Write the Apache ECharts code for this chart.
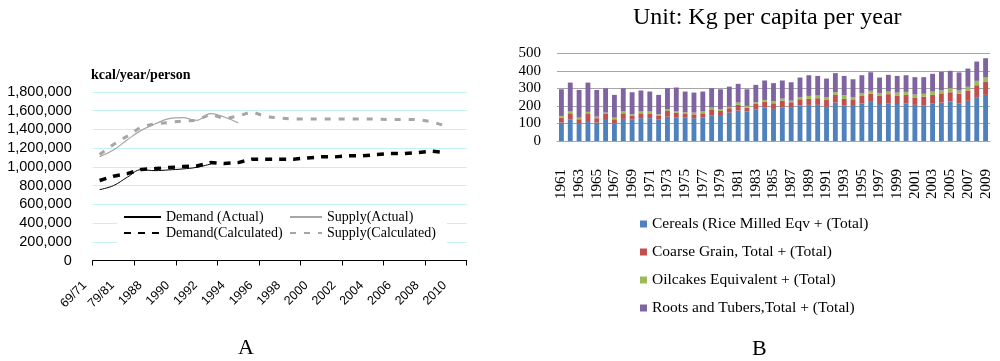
<!DOCTYPE html>
<html>
<head>
<meta charset="utf-8">
<script src="https://cdn.jsdelivr.net/npm/echarts@6/dist/echarts.min.js"></script>
<style>
html,body{margin:0;padding:0;background:#fff;}
#c{width:1000px;height:361px;}
</style>
</head>
<body>
<div id="c"></div>
<script>
// ---------- Panel A data ----------
const catsA = ['69/71','74/76','79/81','1987','1988','1989','1990','1991','1992','1993','1994','1995','1996','1997','1998','1999','2000','2001','2002','2003','2004','2005','2006','2007','2008','2009','2010'];
const demandActual = [757000,800000,890000,970000,960000,968000,978000,995000,1030000];
const supplyActual = [1110000,1180000,1290000,1390000,1458000,1515000,1527000,1497000,1568000,1533000,1470000];
const demandCalc = [855000,900000,928000,973000,982000,993000,1003000,1010000,1046000,1036000,1046000,1082000,1082000,1082000,1082000,1096000,1107000,1107000,1118000,1118000,1132000,1143000,1143000,1154000,1168000,1154000];
const supplyCalc = [1132000,1240000,1329000,1428000,1460000,1475000,1489000,1496000,1564000,1514000,1543000,1589000,1536000,1521000,1511000,1511000,1511000,1511000,1511000,1511000,1511000,1505000,1505000,1505000,1482000,1436000];
const yTicksA = {min:0, max:1800000, interval:200000};

// ---------- Panel B data ----------
const yearsB = [];
for (let y = 1961; y <= 2009; y++) yearsB.push(String(y));
const cereals = [105,124,101,114,105,120,101,126,124,130,130,124,139,133,133,130,133,147,143,162,173,168,181,192,183,192,189,202,206,206,196,219,204,200,213,223,211,215,211,215,206,204,215,219,225,215,229,250,263];
const coarse  = [28,34,23,44,25,34,23,32,19,28,24,19,32,29,21,22,25,34,28,25,33,22,30,31,32,38,32,36,34,38,38,44,36,34,44,46,46,52,46,48,42,49,48,53,53,54,59,68,76];
const oilcakes= [10,10,9,8,9,8,9,10,9,10,14,9,10,9,10,10,10,9,10,9,13,10,10,11,12,12,9,12,17,15,16,15,21,16,15,17,17,15,19,17,17,16,19,16,23,19,21,25,23];
const roots   = [152,165,158,167,152,139,130,133,126,120,114,111,120,134,118,114,114,111,114,114,107,95,99,111,103,103,105,112,118,112,106,109,110,102,103,106,88,95,95,95,99,95,101,106,99,103,104,110,110];
const namesB = ['Cereals (Rice Milled Eqv + (Total)','Coarse Grain, Total + (Total)','Oilcakes Equivalent + (Total)','Roots and Tubers,Total + (Total)'];
const colorsB = ['#4f81bd','#c0504d','#9bbb59','#8064a2'];

const serif = 'Liberation Serif';
const sans = 'Liberation Sans';

const chart = echarts.init(document.getElementById('c'), null, {renderer:'canvas'});

const fmt = v => v.toLocaleString('en-US');

const option = {
  animation: false,
  backgroundColor: '#fff',
  title: [
    {text:'kcal/year/person', left:91, top:68, padding:0, textStyle:{fontFamily:serif, fontWeight:'bold', fontSize:14, color:'#000'}},
    {text:'Unit: Kg per capita per year', left:633, top:6, padding:0, textStyle:{fontFamily:serif, fontWeight:'normal', fontSize:24, color:'#000'}},
    {text:'A', left:238, top:337, padding:0, textStyle:{fontFamily:serif, fontWeight:'normal', fontSize:22, color:'#000'}},
    {text:'B', left:752, top:338, padding:0, textStyle:{fontFamily:serif, fontWeight:'normal', fontSize:22, color:'#000'}}
  ],
  graphic: [
    {type:'rect', z:1, shape:{x:117, y:210, width:330, height:33}, style:{fill:'#fff'}}
  ],
  legend: [
    {orient:'vertical', left:123, top:209, padding:0, itemGap:0, itemWidth:37, itemHeight:10, z:10,
     itemStyle:{opacity:0},
     data:['Demand (Actual)','Demand(Calculated)'],
     textStyle:{fontFamily:serif, fontSize:14, color:'#000', lineHeight:16}},
    {orient:'vertical', left:289, top:209, padding:0, itemGap:0, itemWidth:32, itemHeight:10, z:10,
     itemStyle:{opacity:0},
     data:['Supply(Actual)','Supply(Calculated)'],
     textStyle:{fontFamily:serif, fontSize:14, color:'#000', lineHeight:16}},
    {orient:'vertical', left:640, top:216, padding:0, itemGap:12, itemWidth:7, itemHeight:7, icon:'rect', z:10,
     data:namesB,
     textStyle:{fontFamily:serif, fontSize:15.5, color:'#000', lineHeight:16}}
  ],
  grid: [
    {left:92.7, top:92, width:374, height:168.5, containLabel:false},
    {left:557, top:53.3, width:433, height:87.7, containLabel:false},
    // helper grid carrying only the panel A category labels (shifted like the original's labels)
    {left:84.7, top:92, width:374, height:168.5, containLabel:false}
  ],
  xAxis: [
    {type:'category', gridIndex:0, data:catsA, boundaryGap:true, position:'bottom',
     axisLine:{show:true, lineStyle:{color:'#000', width:1}},
     axisTick:{show:true, length:5, lineStyle:{color:'#000'}},
     axisLabel:{show:false},
     splitLine:{show:false}},
    {type:'category', gridIndex:1, data:yearsB, boundaryGap:true,
     axisLine:{show:true, lineStyle:{color:'#a6a6a6', width:1}},
     axisTick:{show:false},
     axisLabel:{interval:1, rotate:90, margin:28, fontFamily:serif, fontSize:15, color:'#000'},
     splitLine:{show:false}},
    {type:'category', gridIndex:2, data:catsA.concat(['']), boundaryGap:false, position:'bottom',
     axisLine:{show:false}, axisTick:{show:false}, splitLine:{show:false},
     axisLabel:{interval:1, rotate:45, margin:23, fontFamily:sans, fontSize:12.5, color:'#000'}}
  ],
  yAxis: [
    {type:'value', gridIndex:0, min:yTicksA.min, max:yTicksA.max, interval:yTicksA.interval,
     axisLine:{show:false}, axisTick:{show:false},
     axisLabel:{margin:21, fontFamily:sans, fontSize:14.5, color:'#000', formatter:fmt},
     splitLine:{show:true, lineStyle:{color:'#c4f2f2', width:1}}},
    {type:'value', gridIndex:1, min:0, max:500, interval:100,
     axisLine:{show:false}, axisTick:{show:false},
     axisLabel:{margin:16, fontFamily:serif, fontSize:15, color:'#000'},
     splitLine:{show:true, lineStyle:{color:'#a6a6a6', width:1}}},
    {type:'value', gridIndex:2, show:false, min:0, max:1, splitLine:{show:false}}
  ],
  series: [
    {name:'Demand (Actual)', type:'line', xAxisIndex:0, yAxisIndex:0, data:demandActual, smooth:0.4, symbol:'none', z:3,
     lineStyle:{color:'#000', width:1}, itemStyle:{color:'#000'}},
    {name:'Supply(Actual)', type:'line', xAxisIndex:0, yAxisIndex:0, data:supplyActual, smooth:0.4, symbol:'none', z:3,
     lineStyle:{color:'#a6a6a6', width:1.2}, itemStyle:{color:'#a6a6a6'}},
    {name:'Demand(Calculated)', type:'line', xAxisIndex:0, yAxisIndex:0, data:demandCalc, symbol:'none', z:3,
     lineStyle:{color:'#000', width:3.5, type:[7,7], cap:'butt'}, itemStyle:{color:'#000'}},
    {name:'Supply(Calculated)', type:'line', xAxisIndex:0, yAxisIndex:0, data:supplyCalc, symbol:'none', z:3,
     lineStyle:{color:'#a6a6a6', width:3, type:[6,8], cap:'butt'}, itemStyle:{color:'#a6a6a6'}},
    {name:namesB[0], type:'bar', stack:'b', xAxisIndex:1, yAxisIndex:1, data:cereals, barCategoryGap:'45%', itemStyle:{color:colorsB[0]}},
    {name:namesB[1], type:'bar', stack:'b', xAxisIndex:1, yAxisIndex:1, data:coarse, barCategoryGap:'45%', itemStyle:{color:colorsB[1]}},
    {name:namesB[2], type:'bar', stack:'b', xAxisIndex:1, yAxisIndex:1, data:oilcakes, barCategoryGap:'45%', itemStyle:{color:colorsB[2]}},
    {name:namesB[3], type:'bar', stack:'b', xAxisIndex:1, yAxisIndex:1, data:roots, barCategoryGap:'45%', itemStyle:{color:colorsB[3]}}
  ]
};
chart.setOption(option);
</script>
</body>
</html>
